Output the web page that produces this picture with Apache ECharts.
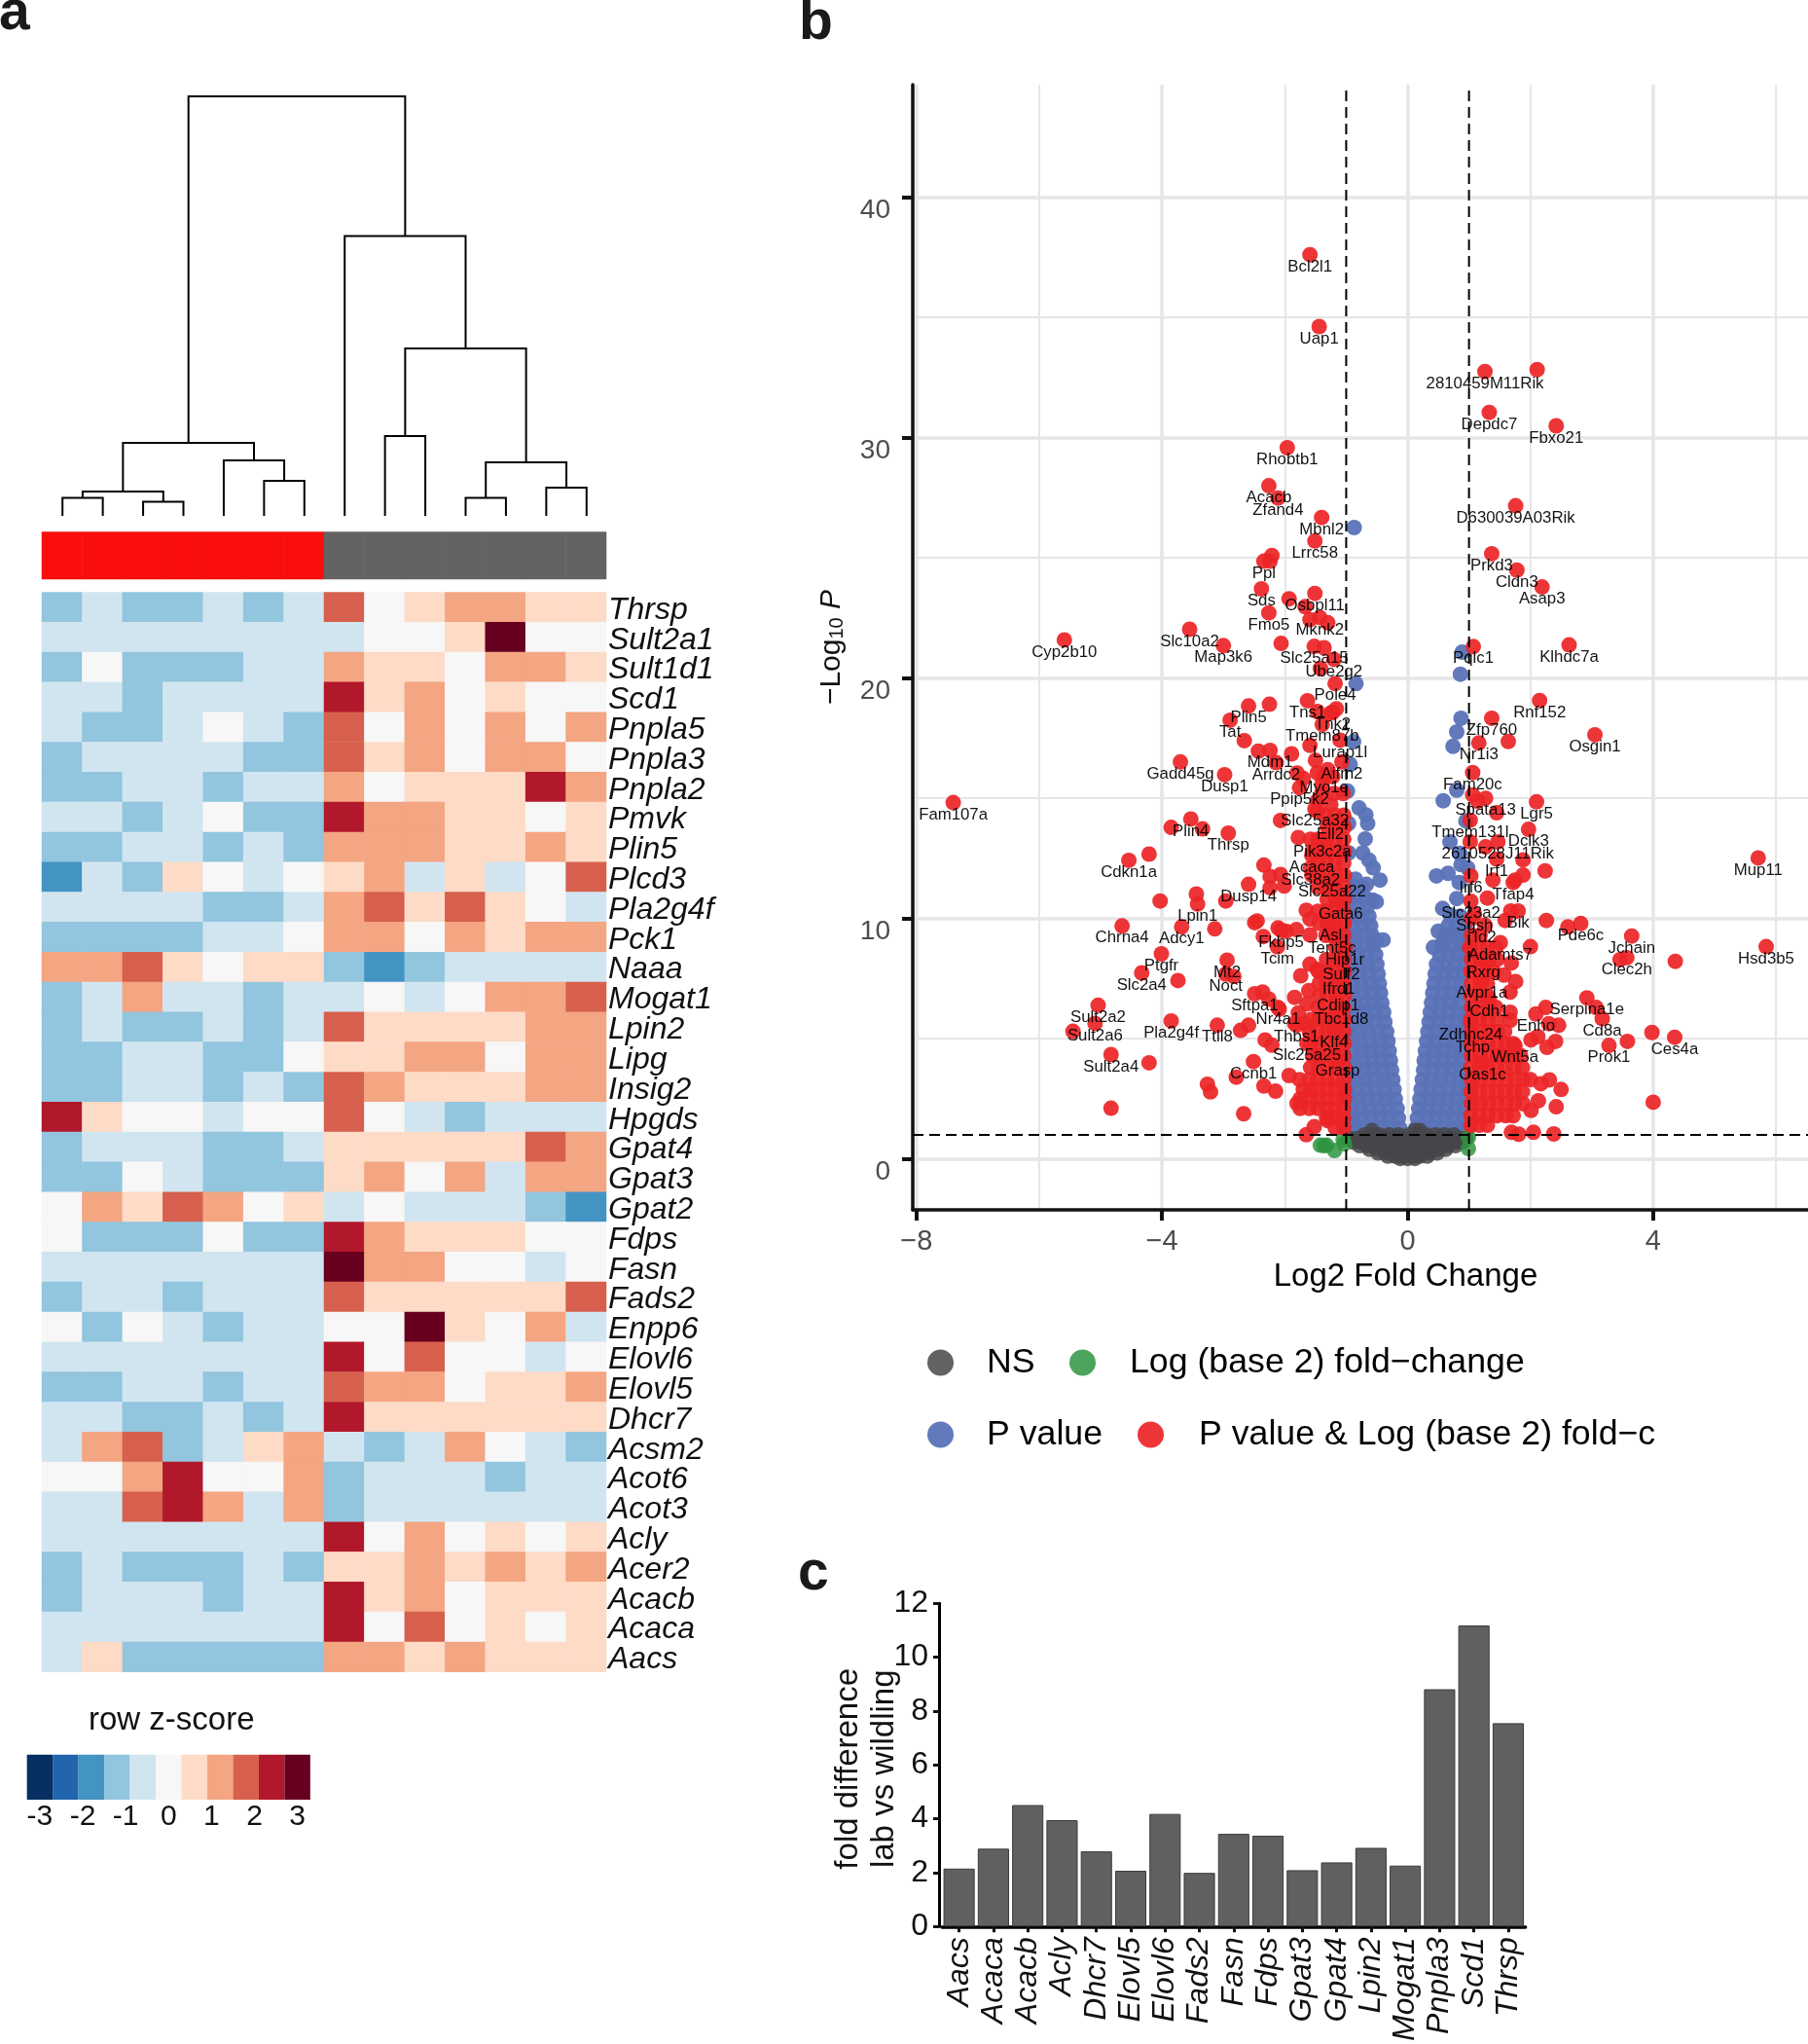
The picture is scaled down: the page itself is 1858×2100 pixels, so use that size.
<!DOCTYPE html>
<html><head><meta charset="utf-8">
<style>html,body{margin:0;padding:0;background:#fff}#c{width:1858px;height:2100px}</style>
<script src="https://cdn.jsdelivr.net/npm/echarts@6/dist/echarts.min.js"></script>
</head><body><div id="c"></div>
<script>
// ---------- Panel a: heatmap ----------
const geneRows = ['Thrsp','Sult2a1','Sult1d1','Scd1','Pnpla5','Pnpla3','Pnpla2','Pmvk','Plin5','Plcd3','Pla2g4f','Pck1','Naaa','Mogat1','Lpin2','Lipg','Insig2','Hpgds','Gpat4','Gpat3','Gpat2','Fdps','Fasn','Fads2','Enpp6','Elovl6','Elovl5','Dhcr7','Acsm2','Acot6','Acot3','Acly','Acer2','Acacb','Acaca','Aacs'];
const sampleCols = ['s1','s2','s3','s4','s5','s6','s7','s8','s9','s10','s11','s12','s13','s14'];
// colour-bin of each cell: -5..5, 0 = centre of the row z-score scale
const heatBins = [
[-2,-1,-2,-2,-1,-2,-1,3,0,1,2,2,1,1],
[-1,-1,-1,-1,-1,-1,-1,-1,0,0,1,5,0,0],
[-2,0,-2,-2,-2,-1,-1,2,1,1,0,2,2,1],
[-1,-1,-2,-1,-1,-1,-1,4,1,2,0,1,0,0],
[-1,-2,-2,-1,0,-1,-2,3,0,2,0,2,0,2],
[-2,-1,-1,-1,-1,-2,-2,3,1,2,0,2,2,0],
[-2,-2,-1,-1,-2,-1,-1,2,0,1,1,1,4,2],
[-1,-1,-2,-1,0,-2,-2,4,2,2,1,1,0,1],
[-2,-2,-1,-1,-2,-1,-2,2,2,2,1,1,2,1],
[-3,-1,-2,1,0,-1,0,1,2,-1,1,-1,0,3],
[-1,-1,-1,-1,-2,-2,-1,2,3,1,3,1,0,-1],
[-2,-2,-2,-2,-1,-1,0,2,2,0,2,1,2,2],
[2,2,3,1,0,1,1,-2,-3,-2,-1,-1,-1,-1],
[-2,-1,2,-1,-1,-2,-1,-1,0,-1,0,2,2,3],
[-2,-1,-2,-2,-1,-2,-1,3,1,1,1,1,2,2],
[-2,-2,-1,-1,-2,-2,0,1,1,2,2,0,2,2],
[-2,-2,-1,-1,-2,-1,-2,3,2,1,1,1,2,2],
[4,1,0,0,-1,0,0,3,0,-1,-2,-1,-1,-1],
[-2,-1,-1,-1,-2,-2,-1,1,1,1,1,1,3,2],
[-2,-2,0,-1,-2,-2,-2,1,2,0,2,-1,2,2],
[0,2,1,3,2,0,1,-1,0,-1,-1,-1,-2,-3],
[0,-2,-2,-2,0,-2,-2,4,2,1,1,1,0,0],
[-1,-1,-1,-1,-1,-1,-1,5,2,2,0,0,-1,0],
[-2,-1,-1,-2,-1,-1,-1,3,1,1,1,1,1,3],
[0,-2,0,-1,-2,-1,-1,0,0,5,1,0,2,-1],
[-1,-1,-1,-1,-1,-1,-1,4,0,3,0,0,-1,0],
[-2,-2,-1,-1,-2,-1,-1,3,2,2,0,1,1,2],
[-1,-1,-2,-2,-1,-2,-1,4,1,1,1,1,1,1],
[-1,2,3,-2,-1,1,2,-1,-2,-1,2,0,-1,-2],
[0,0,2,4,0,0,2,-2,-1,-1,-1,-2,-1,-1],
[-1,-1,3,4,2,-1,2,-2,-1,-1,-1,-1,-1,-1],
[-1,-1,-1,-1,-1,-1,-1,4,0,2,0,1,0,1],
[-2,-1,-2,-2,-2,-1,-2,1,1,2,1,2,1,2],
[-2,-1,-1,-1,-2,-1,-1,4,1,2,0,1,1,1],
[-1,-1,-1,-1,-1,-1,-1,4,0,3,0,1,0,1],
[-1,1,-2,-2,-2,-2,-2,2,2,1,2,1,1,1]];
const rdbu = ['#053061','#2166AC','#4393C3','#92C5DE','#D1E5F0','#F7F7F7','#FDDBC7','#F4A582','#D6604D','#B2182B','#67001F'];
const binValues = [-5,-4,-3,-2,-1,0,1,2,3,4,5];
const legendZ = [-3,-2.4,-1.8,-1.2,-0.6,0,0.6,1.2,1.8,2.4,3];
const sampleGroup = [0,0,0,0,0,0,0,1,1,1,1,1,1,1];
// Column dendrogram: nodes 0-13 are leaves, each merge adds a node: [child, child, height]
const dendroMerges = [[0,1,18.5],[2,3,14.4],[14,15,25],[5,6,36],[4,17,57],[16,18,75],[8,9,82],[10,11,18.5],[12,13,29],[21,22,55],[20,23,172],[7,24,287.5],[19,25,431]];

// ---------- Panel b: volcano ----------
const redLabelled = [
['Bcl2l1',-1.59,37.61],['Uap1',-1.44,34.62],['Rhobtb1',-1.96,29.58],['Acacb',-2.26,28.0],['Zfand4',-2.11,27.49],['Mbnl2',-1.40,26.68],['Lrrc58',-1.51,25.70],['Ppl',-2.34,24.86],['Sds',-2.38,23.71],['Osbpl11',-1.51,23.52],['Fmo5',-2.26,22.71],['Mknk2',-1.43,22.52],['Slc10a2',-3.55,22.03],['Cyp2b10',-5.59,21.59],['Map3k6',-3.0,21.35],['Slc25a15',-1.52,21.32],['Ube2g2',-1.20,20.78],['Pole4',-1.18,19.77],['Tns1',-1.63,19.06],['Tnk2',-1.22,18.58],['Plin5',-2.59,18.84],['Tat',-2.89,18.25],['Tmem87b',-1.39,18.07],['Lurap1l',-1.10,17.42],['Mdm1',-2.24,16.99],['Arrdc2',-2.14,16.48],['Aifm2',-1.07,16.51],['Gadd45g',-3.70,16.51],['Dusp1',-2.98,15.98],['Myo1e',-1.36,15.93],['Ppip5k2',-1.76,15.44],['Fam107a',-7.40,14.82],['Plin4',-3.53,14.14],['Thrsp',-2.92,13.55],['Slc25a32',-1.51,14.56],['Ell2',-1.26,14.0],['Pik3c2a',-1.39,13.26],['Cdkn1a',-4.54,12.42],['Acaca',-1.56,12.62],['Slc38a2',-1.58,12.1],['Slc25a22',-1.23,11.6],['Dusp14',-2.59,11.42],['Lpin1',-3.42,10.6],['Gata6',-1.09,10.67],['Chrna4',-4.65,9.69],['Adcy1',-3.68,9.65],['Asl',-1.25,9.8],['Fkbp5',-2.06,9.51],['Tent5c',-1.23,9.28],['Tcim',-2.12,8.82],['Ptgfr',-4.01,8.53],['Hip1r',-1.02,8.79],['Mt2',-2.94,8.27],['Slc2a4',-4.33,7.74],['Noct',-2.96,7.69],['Sulf2',-1.08,8.17],['Ifrd1',-1.12,7.56],['Sftpa1',-2.49,6.87],['Cdip1',-1.13,6.87],['Nr4a1',-2.11,6.3],['Tbc1d8',-1.08,6.3],['Sult2a2',-5.04,6.39],['Pla2g4f',-3.85,5.74],['Ttll8',-3.10,5.56],['Sult2a6',-5.09,5.64],['Thbs1',-1.81,5.56],['Klf4',-1.20,5.35],['Slc25a25',-1.64,4.8],['Sult2a4',-4.83,4.34],['Ccnb1',-2.51,4.05],['Grasp',-1.14,4.16],
['2810459M11Rik',1.26,32.75],['Depdc7',1.33,31.05],['Fbxo21',2.42,30.49],['D630039A03Rik',1.76,27.17],['Prkd3',1.37,25.17],['Cldn3',1.78,24.49],['Asap3',2.19,23.79],['Pqlc1',1.07,21.31],['Klhdc7a',2.63,21.38],['Rnf152',2.15,19.07],['Zfp760',1.37,18.33],['Osgin1',3.05,17.64],['Nr1i3',1.16,17.3],['Fam20c',1.06,16.07],['Spata13',1.27,15.0],['Lgr5',2.10,14.85],['Tmem131l',1.02,14.09],['Dclk3',1.97,13.71],['2610528J11Rik',1.47,13.19],['Irf1',1.45,12.47],['Mup11',5.71,12.52],['Irf6',1.03,11.77],['Tfap4',1.72,11.5],['Slc23a2',1.03,10.72],['Bik',1.80,10.31],['Sgsh',1.09,10.18],['Id2',1.26,9.72],['Pde6c',2.82,9.79],['Jchain',3.65,9.27],['Hsd3b5',5.84,8.83],['Adamts7',1.51,9.0],['Clec2h',3.57,8.37],['Rxrg',1.23,8.26],['Avpr1a',1.21,7.41],['Cdh1',1.33,6.64],['Serpina1e',2.92,6.7],['Enho',2.09,6.03],['Cd8a',3.17,5.83],['Ces4a',4.35,5.06],['Prok1',3.28,4.72],['Zdhhc24',1.03,5.66],['Tchp',1.06,5.12],['Wnt5a',1.75,4.71],['Oas1c',1.22,4.01]];
// unlabelled significant genes read one by one: [-log10P, log2FC]
const redScattered = [[32.83,2.11],[25.1,-2.21],[24.86,-2.24],[23.3,-1.93],[22.97,-1.67],[22.43,-1.59],[22.3,-1.30],[21.44,-2.06],[21.26,-1.36],[20.4,-1.42],[18.91,-2.25],[18.61,-1.47],[18.55,-1.25],[18.72,-1.16],[17.4,-2.66],[17.2,-1.59],[16.96,-2.43],[16.85,-1.89],[16.58,-1.50],[16.05,-1.80],[15.83,-1.70],[16.06,-1.47],[16.19,-1.30],[15.9,-1.22],[15.62,-1.39],[14.75,-1.25],[14.89,-1.47],[14.46,-1.47],[13.79,-3.85],[13.73,-3.34],[14.08,-2.07],[13.37,-1.78],[12.68,-4.21],[12.22,-2.34],[11.75,-2.24],[11.83,-2.07],[11.28,-2.24],[11.35,-2.01],[11.02,-3.44],[10.73,-4.03],[10.73,-2.96],[10.34,-1.65],[9.98,-1.59],[9.57,-3.14],[9.83,-2.49],[9.9,-2.45],[9.61,-2.11],[9.47,-1.98],[9.54,-1.81],[9.32,-1.59],[9.25,-2.35],[7.42,-3.74],[7.59,-2.83],[8.1,-1.59],[7.62,-1.74],[7.88,-1.47],[6.94,-2.36],[6.65,-2.26],[6.72,-1.84],[7.0,-1.61],[6.45,-1.64],[6.23,-2.09],[6.07,-1.78],[5.64,-1.67],[5.64,-1.84],[5.31,-5.45],[5.35,-2.72],[5.56,-2.59],[4.95,-2.32],[4.73,-2.21],[4.0,-4.21],[3.4,-2.79],[3.11,-3.26],[2.79,-3.21],[3.03,-2.34],[2.82,-2.15],[3.47,-1.93],[2.11,-4.83],[1.88,-2.67],[1.34,-1.52],[1.01,-1.65],[1.59,-1.30],[2.31,-1.80],
[17.36,1.64],[15.14,1.06],[14.88,1.14],[14.4,1.45],[12.98,1.27],[13.19,1.02],[12.44,1.88],[11.98,2.24],[11.81,1.88],[11.6,1.39],[11.6,1.75],[10.85,1.30],[10.31,1.68],[9.92,1.59],[9.92,2.26],[9.65,2.61],[8.83,2.0],[8.8,1.01],[8.29,3.46],[8.22,4.36],[8.15,1.69],[7.65,1.57],[7.38,1.76],[6.94,1.67],[6.3,3.07],[6.3,2.25],[5.63,2.30],[5.56,2.46],[6.1,1.67],[5.76,1.67],[5.26,3.98],[4.89,3.58],[4.89,2.41],[4.64,2.27],[4.95,2.01],[5.09,2.12],[3.29,2.31],[2.89,2.50],[3.13,2.17],[2.36,4.0],[2.17,2.42],[2.42,2.13],[2.02,2.01],[1.11,1.69],[1.03,1.81],[1.11,2.05],[1.04,2.38]];
// dense red masses, read row by row: [-log10P, log2FC, log2FC, ...]
const redMassRows = [
[1.3,-1.04,-1.18],[1.7,-1.04,-1.18,-1.32],[2.1,-1.04,-1.18,-1.32,-1.46,-1.6,-1.75],[2.5,-1.03,-1.17,-1.31,-1.45,-1.59,-1.75],[2.9,-1.03,-1.17,-1.31,-1.45,-1.58,-1.7],[3.3,-1.04,-1.18,-1.32,-1.46,-1.6,-1.76],[3.8,-1.03,-1.17,-1.31,-1.45,-1.58],[4.3,-1.04,-1.18,-1.32,-1.46,-1.55],[4.8,-1.03,-1.17,-1.31,-1.45,-1.57],[5.3,-1.04,-1.18,-1.32,-1.46,-1.6],[5.8,-1.03,-1.17,-1.31,-1.45,-1.58],[6.3,-1.04,-1.18,-1.32,-1.46],[6.8,-1.03,-1.17,-1.31,-1.44],[7.3,-1.04,-1.18,-1.32,-1.44],[7.8,-1.03,-1.17,-1.31,-1.45],[8.3,-1.04,-1.18,-1.32],[8.8,-1.03,-1.17],[9.3,-1.04,-1.18,-1.33],[9.8,-1.03,-1.17,-1.31,-1.44],[10.3,-1.04,-1.18,-1.32,-1.46],[10.8,-1.03,-1.17,-1.31],[11.3,-1.04,-1.18,-1.32,-1.46],[11.8,-1.03,-1.17,-1.31,-1.45,-1.56],[12.3,-1.04,-1.18,-1.32,-1.45],[12.8,-1.03,-1.17,-1.31,-1.44,-1.55],[13.3,-1.04,-1.18,-1.32,-1.46,-1.58],[13.8,-1.03,-1.17,-1.31],[14.3,-1.04,-1.18,-1.35],[15.2,-1.05,-1.2,-1.4],
[1.4,1.03,1.17,1.3],[1.8,1.03,1.17,1.31,1.45,1.6,1.72],[2.3,1.04,1.18,1.32,1.46,1.6,1.74,1.88],[2.8,1.03,1.17,1.31,1.45,1.59,1.73,1.87],[3.3,1.04,1.18,1.32,1.46,1.6,1.74,1.88,2.0],[3.8,1.03,1.17,1.31,1.45,1.59,1.73,1.87],[4.3,1.04,1.18,1.32,1.46,1.6,1.72,1.84],[4.8,1.03,1.17,1.31,1.45,1.6,1.72],[5.3,1.04,1.18,1.32,1.46,1.58],[5.8,1.03,1.17,1.31,1.45],[6.3,1.04,1.18,1.32,1.44],[6.8,1.03,1.17,1.3],[7.3,1.04,1.18,1.3],[7.8,1.03,1.17,1.29,1.4],[8.3,1.04,1.18,1.32,1.46],[8.8,1.03,1.17,1.3,1.44],[9.3,1.04,1.18],[10,1.04]];
const blueMassRows = [
[1.3,-.13,-.28,-.43,-.58,-.73,-.88,-.99],[1.7,-.15,-.3,-.45,-.6,-.75,-.9,-.99],[2.1,-.17,-.32,-.47,-.62,-.77,-.92],[2.5,-.2,-.35,-.5,-.65,-.8,-.95],[2.9,-.22,-.37,-.52,-.67,-.82,-.97],[3.3,-.24,-.39,-.54,-.69,-.84,-.98],[3.7,-.26,-.41,-.56,-.71,-.86,-.98],[4.1,-.28,-.43,-.58,-.73,-.88,-.99],[4.5,-.3,-.45,-.6,-.75,-.9],[4.9,-.32,-.47,-.62,-.77,-.92],[5.3,-.34,-.49,-.64,-.79,-.94],[5.7,-.37,-.52,-.67,-.82,-.97],[6.1,-.39,-.54,-.69,-.84,-.98],[6.5,-.42,-.57,-.72,-.87],[6.9,-.44,-.59,-.74,-.89],[7.3,-.46,-.61,-.76,-.91],[7.7,-.48,-.63,-.78,-.93],[8.1,-.5,-.65,-.8,-.95],[8.5,-.52,-.67,-.82,-.96],[8.9,-.55,-.7,-.85,-.97],[9.3,-.58,-.72,-.87,-.98],[9.7,-.6,-.75,-.9],[10.1,-.63,-.78,-.93],[10.5,-.66,-.81,-.94],[10.9,-.7,-.84,-.96],[11.3,-.74,-.88],
[1.3,.14,.29,.44,.59,.74,.89,.99],[1.7,.16,.31,.46,.61,.76,.91],[2.1,.18,.33,.48,.63,.78,.93],[2.5,.2,.35,.5,.65,.8,.95],[2.9,.22,.37,.52,.67,.82,.97],[3.3,.24,.39,.54,.69,.84,.98],[3.7,.26,.41,.56,.71,.86],[4.1,.27,.42,.57,.72,.87],[4.5,.29,.44,.59,.74,.89],[4.9,.31,.46,.61,.76,.91],[5.3,.33,.48,.63,.78,.93],[5.7,.35,.5,.65,.8,.95],[6.1,.37,.52,.67,.82,.97],[6.5,.39,.54,.69,.84],[6.9,.41,.56,.71,.86],[7.3,.43,.58,.73,.88],[7.7,.45,.6,.75,.9],[8.1,.47,.62,.77,.92],[8.5,.52,.67,.82,.95],[8.9,.56,.71,.86],[9.3,.6,.75,.9],[9.7,.66,.8,.94],[10.1,.72,.86]];
const blueScattered = [[26.26,-.87],[19.77,-.84],[17.35,-.88],[16.41,-.935],[15.3,-.98],[14.6,-.79],[14.31,-.68],[13.95,-.65],[13.95,-.96],[13.31,-.69],[12.73,-.73],[12.43,-.63],[12.11,-.56],[11.6,-.45],[12.73,-.96],[11.64,-.85],[11.42,-.67],[10.77,-.57],[10.7,-.51],[11.28,-.85],[9.11,-.40],[9.11,-.51],
[21.08,.89],[20.16,.86],[18.33,.87],[17.76,.80],[17.16,.74],[15.34,.80],[14.9,.58],[14.06,.95],[13.19,.69],[12.71,.85],[12.24,.87],[12.1,.98],[11.77,.47],[11.88,.66],[11.5,.84],[10.83,.80],[10.42,.57],[10.15,.69],[9.47,.50],[8.8,.42],[8.94,.56],[9.34,.69],[9.07,.85]];
const greyRows = [[.02,-.12,0,.12],[.12,-.32,-.2,-.08,.08,.2,.32],[.25,-.48,-.36,-.24,-.12,0,.12,.24,.36,.48],[.4,-.62,-.5,-.38,-.26,-.14,0,.14,.26,.38,.5,.62],[.55,-.78,-.66,-.54,-.42,-.3,-.18,-.06,.06,.18,.3,.42,.54,.66,.78],[.7,-.88,-.76,-.64,-.52,-.4,-.28,-.16,-.04,.08,.2,.32,.44,.56,.68,.8,.9],[.85,-.95,-.83,-.71,-.59,-.47,-.35,-.23,-.11,.01,.13,.25,.37,.49,.61,.73,.85,.95],[1.0,-.7,-.58,-.46,-.3,-.15,.02,.17,.3,.45,.6,.75],[1.18,-.58,.2,.12]];
const greenPoints = [[-1.36,.55],[-1.19,.35],[-1.42,.57],[-1.05,.8],[-1.03,.63],[.99,.43],[.99,.9],[-1.32,.57]];

// ---------- Panel c: bars ----------
const barGenes = ['Aacs','Acaca','Acacb','Acly','Dhcr7','Elovl5','Elovl6','Fads2','Fasn','Fdps','Gpat3','Gpat4','Lpin2','Mogat1','Pnpla3','Scd1','Thrsp'];
const barValues = [2.15,2.89,4.51,3.95,2.79,2.07,4.18,1.99,3.44,3.37,2.09,2.38,2.92,2.26,8.81,11.18,7.55];

// ---------- derived tables ----------
const F = '"Liberation Sans", Arial, sans-serif';
const fromRows = rows => rows.flatMap(r => r.slice(1).map(x => [x, r[0]]));
const heatData = heatBins.flatMap((row, r) => row.map((v, c) => [c, r, v]));
const nodeX = sampleCols.map((_, i) => i + 0.5), nodeH = sampleCols.map(() => 0);
const dendroData = dendroMerges.map(([a, b, h]) => {
  const d = [nodeX[a], nodeH[a], nodeX[b], nodeH[b], h];
  nodeX.push((nodeX[a] + nodeX[b]) / 2); nodeH.push(h);
  return d;
});
const redData = [
  ...redScattered.map(p => ({ value: [p[1], p[0]], name: '' })),
  ...fromRows(redMassRows).map(p => ({ value: p, name: '' })),
  ...redLabelled.map(p => ({ value: [p[1], p[2]], name: p[0] }))
];
const blueData = [...fromRows(blueMassRows), ...blueScattered.map(p => [p[1], p[0]])];
const greyData = fromRows(greyRows);

// axis limits of the volcano panel
const vx = [-8.059, 6.521], vy = [-2.117, 44.68];
const volc = { xAxisIndex: 4, yAxisIndex: 4 };
const dash = (name, pts) => ({ type: 'line', name, ...volc, data: pts, symbol: 'none', silent: true, z: 6, animation: false,
  lineStyle: { color: '#000', width: 2, type: [11, 6] } });
const pt = (name, data, color, opacity, z, extra) => ({ type: 'scatter', name, ...volc, data, symbolSize: 16, z, animation: false,
  itemStyle: { color, opacity }, ...extra });
const off = { show: false };
const legendItem = (name, left, top, gap) => ({ data: [name], left, top, icon: 'circle', itemWidth: 27, itemHeight: 27, selectedMode: false,
  textStyle: { fontFamily: F, fontSize: 35.7, color: '#000', padding: [0, 0, 0, gap] } });
const gridLineMajor = { show: true, lineStyle: { color: '#E6E6E8', width: 3.5 } };
const gridLineMinor = { show: true, lineStyle: { color: '#E6E6E8', width: 2 } };
const panelLetter = (text, left, top) => ({ type: 'text', left, top, style: { text, font: 'bold 57px ' + F, fill: '#1a1a1a' } });
const tickStyle = { color: '#111', width: 4 };

const option = {
  animation: false,
  backgroundColor: '#fff',
  textStyle: { fontFamily: F },
  graphic: [
    panelLetter('a', -1, -14),
    panelLetter('b', 821, -4),
    panelLetter('c', 820, 1589),
    { type: 'text', left: 91, top: 1751, style: { text: 'row z-score', font: '33px ' + F, fill: '#111' } }
  ],
  grid: [
    { left: 43.5, top: 99, width: 580, height: 431 },
    { left: 43, top: 546.6, width: 580, height: 48.4 },
    { left: 43, top: 608.4, width: 580, height: 1109.3 },
    { left: 40.9, top: 1802.7, width: 264.7, height: 46.3 },
    { left: 938, top: 87, right: 0, bottom: 857 },
    { left: 968, top: 1647.3, width: 599.6, height: 332.7 }
  ],
  xAxis: [
    { gridIndex: 0, type: 'value', min: 0, max: 14, show: false },
    { gridIndex: 1, type: 'category', data: sampleCols, show: false },
    { gridIndex: 2, type: 'category', data: sampleCols, show: false },
    { gridIndex: 3, type: 'value', min: -3, max: 3, interval: 1, axisLine: off, axisTick: off, splitLine: off,
      axisLabel: { margin: 3, fontSize: 30, color: '#111', fontFamily: F } },
    { gridIndex: 4, type: 'value', min: vx[0], max: vx[1],
      axisLine: { show: true, onZero: false, lineStyle: { color: '#111', width: 3.5 } },
      axisTick: { show: true, length: 11, customValues: [-8, -4, 0, 4], lineStyle: tickStyle },
      axisLabel: { customValues: [-8, -4, 0, 4], margin: 18, fontSize: 29, color: '#4d4d4d', fontFamily: F, formatter: v => v < 0 ? '\u2212' + (-v) : String(v) },
      splitLine: gridLineMajor,
      name: 'Log2 Fold Change', nameLocation: 'middle', nameGap: 52,
      nameTextStyle: { fontSize: 33, color: '#000', fontFamily: F, padding: [0, 0, 0, 93] } },
    { gridIndex: 4, type: 'value', min: vx[0], max: vx[1], axisLine: off, axisLabel: off,
      axisTick: { show: false, customValues: [-6, -2, 2, 6] }, splitLine: gridLineMinor },
    { gridIndex: 5, type: 'category', data: barGenes,
      axisLine: { show: true, lineStyle: { color: '#000', width: 3.5 } },
      axisTick: { show: true, alignWithLabel: true, length: 6, lineStyle: { color: '#111', width: 3 } },
      axisLabel: { interval: 0, rotate: 90, margin: 11, fontSize: 32, fontStyle: 'italic', color: '#111', fontFamily: F } }
  ],
  yAxis: [
    { gridIndex: 0, type: 'value', min: 0, max: 431, show: false },
    { gridIndex: 1, type: 'category', data: ['group'], show: false },
    { gridIndex: 2, type: 'category', data: geneRows, inverse: true, position: 'right',
      axisLine: off, axisTick: off,
      axisLabel: { interval: 0, margin: 2, fontSize: 32, fontStyle: 'italic', color: '#111', fontFamily: F, verticalAlign: 'top', lineHeight: 6 } },
    { gridIndex: 3, type: 'value', min: 0, max: 1, show: false },
    { gridIndex: 4, type: 'value', min: vy[0], max: vy[1],
      axisLine: { show: true, onZero: false, lineStyle: { color: '#111', width: 3.5 } },
      axisTick: { show: true, length: 11, customValues: [0, 10, 20, 30, 40], lineStyle: tickStyle },
      axisLabel: { customValues: [0, 10, 20, 30, 40], margin: 23, fontSize: 28, color: '#4d4d4d', fontFamily: F, verticalAlign: 'top', lineHeight: 27 },
      splitLine: gridLineMajor,
      name: '{a|\u2212Log}{s|10}{i| P}', nameLocation: 'middle', nameGap: 68, nameRotate: 90,
      nameTextStyle: { rich: { a: { fontSize: 30, fontFamily: F, color: '#111' }, s: { fontSize: 20, fontFamily: F, color: '#111', verticalAlign: 'bottom' }, i: { fontSize: 30, fontStyle: 'italic', fontFamily: F, color: '#111' } } } },
    { gridIndex: 4, type: 'value', min: vy[0], max: vy[1], axisLine: off, axisLabel: off,
      axisTick: { show: false, customValues: [5, 15, 25, 35] }, splitLine: gridLineMinor },
    { gridIndex: 5, type: 'value', min: 0, max: 12, interval: 2, offset: 3,
      axisLine: { show: true, lineStyle: { color: '#000', width: 3 } },
      axisTick: { show: true, length: 6, lineStyle: { color: '#111', width: 3 } },
      axisLabel: { margin: 11, fontSize: 32, color: '#111', fontFamily: F },
      splitLine: off,
      name: 'fold difference\nlab vs wildling', nameLocation: 'middle', nameGap: 38, nameRotate: 90, nameMoveOverlap: false,
      nameTextStyle: { fontSize: 33, lineHeight: 37, color: '#111', fontFamily: F, padding: [0, 8, 0, 0] } }
  ],
  legend: [
    legendItem('NS', 948, 1377, 29),
    legendItem('Log (base 2) fold\u2212change', 1094, 1377, 30),
    legendItem('P value', 948, 1451, 29),
    legendItem('P value & Log (base 2) fold\u2212c', 1164, 1451, 31)
  ],
  visualMap: [
    { type: 'piecewise', show: false, seriesIndex: 2, dimension: 2, pieces: binValues.map((v, i) => ({ value: v, color: rdbu[i] })) },
    { type: 'piecewise', show: false, seriesIndex: 1, dimension: 2, pieces: [{ value: 0, color: '#F90D0D' }, { value: 1, color: '#636363' }] }
  ],
  series: [
    { type: 'custom', xAxisIndex: 0, yAxisIndex: 0, data: dendroData, silent: true, animation: false,
      renderItem: (p, api) => {
        const a = api.coord([api.value(0), api.value(1)]), b = api.coord([api.value(0), api.value(4)]),
              c = api.coord([api.value(2), api.value(4)]), d = api.coord([api.value(2), api.value(3)]);
        return { type: 'polyline', shape: { points: [a, b, c, d] }, style: { stroke: '#000', lineWidth: 2, fill: 'none' } };
      } },
    { type: 'heatmap', xAxisIndex: 1, yAxisIndex: 1, data: sampleGroup.map((g, i) => [i, 0, g]), silent: true },
    { type: 'heatmap', xAxisIndex: 2, yAxisIndex: 2, data: heatData, silent: true },
    { type: 'custom', xAxisIndex: 3, yAxisIndex: 3, data: legendZ.map((z, i) => [z, i]), silent: true, animation: false,
      renderItem: (p, api) => {
        const x = api.coord([api.value(0), 0])[0], w = api.size([0.6, 0])[0];
        return { type: 'rect', shape: { x: x - w / 2, y: p.coordSys.y, width: w, height: p.coordSys.height }, style: { fill: rdbu[api.value(1)] } };
      } },
    pt('P value', blueData, '#5A72B7', 0.95, 2),
    pt('NS', greyData, '#47474A', 0.85, 3),
    pt('Log (base 2) fold\u2212change', greenPoints, '#2E9440', 0.85, 3),
    pt('P value & Log (base 2) fold\u2212c', redData, '#EB2426', 0.92, 4, {
      label: { show: true, position: 'inside', offset: [0, 12.5], formatter: '{b}', fontSize: 16.8, color: '#000', fontFamily: F } }),
    dash('y threshold', [[vx[0], 1], [vx[1], 1]]),
    dash('x threshold left', [[-1, vy[0]], [-1, vy[1]]]),
    dash('x threshold right', [[1, vy[0]], [1, vy[1]]]),
    { type: 'bar', xAxisIndex: 6, yAxisIndex: 6, data: barValues, barWidth: '91%', animation: false,
      itemStyle: { color: '#606060', borderColor: '#3a3a3a', borderWidth: 1 } }
  ]
};
const chart = echarts.init(document.getElementById('c'), null, { renderer: 'canvas' });
chart.setOption(option);
</script></body></html>
